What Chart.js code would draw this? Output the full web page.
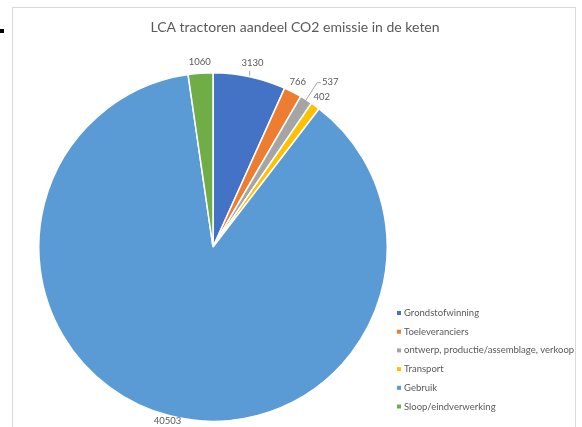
<!DOCTYPE html>
<html>
<head>
<meta charset="utf-8">
<script src="https://cdn.jsdelivr.net/npm/chart.js@4"></script>
<style>
  body { margin: 0; background: #fff; }
  canvas { display: block; }
</style>
</head>
<body>
<canvas id="lca" width="582" height="427"></canvas>
<script>
// Fasen in de keten en de CO2 emissie per fase
const fasen = [
    'Grondstofwinning',
    'Toeleveranciers',
    'ontwerp, productie/assemblage, verkoop',
    'Transport',
    'Gebruik',
    'Sloop/eindverwerking'
];
const emissie = [3130, 766, 537, 402, 40503, 1060];
const kleuren = ['#4472C4', '#ED7D31', '#A5A5A5', '#FFC000', '#5B9BD5', '#70AD47'];

const titel = 'LCA tractoren aandeel CO2 emissie in de keten';
const tekstKleur = '#595959';
const lettertype = 'Lato, "Open Sans", sans-serif';

// kader, titel, puntje links
const kaderPlugin = {
    id: 'kader',
    beforeDraw(chart) {
        const c = chart.ctx;
        c.save();
        c.fillStyle = '#fff';
        c.fillRect(0, 0, chart.width, chart.height);
        c.strokeStyle = '#D9D9D9';
        c.lineWidth = 1;
        c.strokeRect(12.5, 7.5, 563, 430);
        c.fillStyle = '#000';
        c.fillRect(0, 29, 4, 4);
        c.fillStyle = tekstKleur;
        c.font = '14px ' + lettertype;
        c.textAlign = 'center';
        c.textBaseline = 'middle';
        c.fillText(titel, 295, 27);
        c.restore();
    }
};

// waarden buiten de taartpunten
const labelPlugin = {
    id: 'waarden',
    afterDatasetsDraw(chart) {
        const c = chart.ctx;
        const arcs = chart.getDatasetMeta(0).data;
        c.save();
        c.font = '9.5px ' + lettertype;
        c.fillStyle = tekstKleur;
        c.strokeStyle = '#A6A6A6';
        c.lineWidth = 1;
        c.textBaseline = 'middle';
        arcs.forEach((arc, i) => {
            const hoek = (arc.startAngle + arc.endAngle) / 2;
            const r = arc.outerRadius;
            const cos = Math.cos(hoek), sin = Math.sin(hoek);
            const tekst = String(emissie[i]);
            if (i === 2) {
                // kleine punt: label met verbindingslijn
                const x0 = arc.x + cos * (r - 4), y0 = arc.y + sin * (r - 4);
                const x1 = arc.x + cos * (r + 13), y1 = arc.y + sin * (r + 13);
                c.beginPath();
                c.moveTo(x0, y0);
                c.lineTo(x1 + 4, y1 - 6);
                c.lineTo(x1 + 8, y1 - 6);
                c.stroke();
                c.textAlign = 'left';
                c.fillText(tekst, x1 + 9, y1 - 7);
                return;
            }
            let afstand = r + 11;
            if (i === 0) {
                const x = arc.x + cos * r;
                c.beginPath();
                c.moveTo(x, arc.y + sin * r - 1);
                c.lineTo(x, arc.y + sin * r - 6);
                c.stroke();
                afstand = r + 14;
            }
            if (i === 4) afstand = r + 6;
            c.textAlign = 'center';
            c.fillText(tekst, arc.x + cos * afstand, arc.y + sin * afstand);
        });
        c.restore();
    }
};

// legenda rechtsonder
const legendaPlugin = {
    id: 'legenda',
    afterDraw(chart) {
        const c = chart.ctx;
        c.save();
        c.font = '9.5px ' + lettertype;
        c.textAlign = 'left';
        c.textBaseline = 'middle';
        fasen.forEach((naam, i) => {
            const y = 313 + i * 18.7;
            c.fillStyle = kleuren[i];
            c.fillRect(397, y - 2, 4, 4);
            c.fillStyle = tekstKleur;
            c.fillText(naam, 404, y);
        });
        c.restore();
    }
};

new Chart(document.getElementById('lca'), {
    type: 'pie',
    data: {
        labels: fasen,
        datasets: [{
            data: emissie,
            backgroundColor: kleuren,
            borderColor: '#ffffff',
            borderWidth: 1.5
        }]
    },
    options: {
        responsive: false,
        animation: false,
        events: [],
        layout: {
            padding: { left: 38, right: 194, top: 72, bottom: 5 }
        },
        plugins: {
            legend: { display: false },
            title: { display: false },
            tooltip: { enabled: false }
        }
    },
    plugins: [kaderPlugin, labelPlugin, legendaPlugin]
});
</script>
</body>
</html>
